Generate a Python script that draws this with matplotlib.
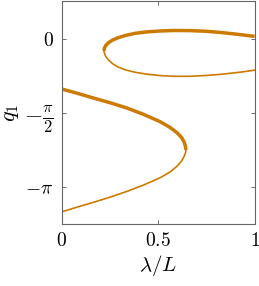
import numpy as np
import matplotlib
matplotlib.use("Agg")
import matplotlib.pyplot as plt

plt.rcParams['mathtext.fontset'] = 'cm'
plt.rcParams['font.family'] = 'serif'
plt.rcParams['font.serif'] = ['cmr10', 'DejaVu Serif']

# upper loop, stable (thick) part
lam_up_thick = [0.218, 0.221, 0.229, 0.243, 0.262, 0.29, 0.33, 0.38, 0.44, 0.51, 0.58, 0.66, 0.74, 0.82, 0.90, 0.95, 1.0]
q_up_thick = [-0.26, -0.20, -0.14, -0.085, -0.035, 0.015, 0.065, 0.11, 0.14, 0.16, 0.17, 0.168, 0.155, 0.13, 0.095, 0.07, 0.045]

# upper loop, unstable (thin) part
lam_up_thin = [0.218, 0.221, 0.229, 0.243, 0.262, 0.29, 0.33, 0.38, 0.44, 0.51, 0.58, 0.66, 0.74, 0.82, 0.90, 0.95, 1.0]
q_up_thin = [-0.26, -0.32, -0.39, -0.46, -0.53, -0.60, -0.665, -0.715, -0.755, -0.785, -0.80, -0.80, -0.785, -0.76, -0.725, -0.70, -0.67]

# lower branch, thick part
lam_lo_thick = [0.0, 0.08, 0.163, 0.25, 0.336, 0.42, 0.509, 0.56, 0.596, 0.62, 0.634, 0.641, 0.644]
q_lo_thick = [-1.07, -1.16, -1.26, -1.36, -1.47, -1.60, -1.76, -1.88, -1.99, -2.09, -2.19, -2.28, -2.36]

# lower branch, thin part
lam_lo_thin = [0.644, 0.641, 0.634, 0.62, 0.596, 0.56, 0.509, 0.42, 0.336, 0.25, 0.163, 0.08, 0.0]
q_lo_thin = [-2.36, -2.43, -2.50, -2.60, -2.71, -2.83, -2.95, -3.11, -3.24, -3.36, -3.47, -3.57, -3.67]

col = '#cc7a00'

fig = plt.figure(figsize=(2.59, 2.86), dpi=100)
ax = fig.add_axes([0.239, 0.217, 0.744, 0.778])

ax.plot(lam_up_thick, q_up_thick, color=col, lw=2.5, solid_capstyle='butt')
ax.plot(lam_up_thin, q_up_thin, color=col, lw=1.2)
ax.plot(lam_lo_thick, q_lo_thick, color=col, lw=2.5, solid_capstyle='butt')
ax.plot(lam_lo_thin, q_lo_thin, color=col, lw=1.2)

ax.set_xlim(0, 1)
ax.set_ylim(-5 * np.pi / 4, np.pi / 4)
ax.set_xticks([0, 0.5, 1])
ax.set_xticklabels([r'$0$', r'$0.5$', r'$1$'])
ax.set_yticks([-np.pi, -np.pi / 2, 0])
ax.set_yticklabels([r'$-\pi$', r'$-\frac{\pi}{2}$', r'$0$'])
ax.tick_params(direction='in', length=3, width=0.6, color='#555555',
               top=True, right=True, labelsize=14, pad=6)
ax.get_yticklabels()[1].set_fontsize(17)
for s in ax.spines.values():
    s.set_color('#666666')
    s.set_linewidth(0.8)

ax.set_xlabel(r'$\lambda/L$', fontsize=15, labelpad=2)
ax.set_ylabel(r'$q_1$', fontsize=16, labelpad=2)

fig.savefig('out.png', dpi=100)
